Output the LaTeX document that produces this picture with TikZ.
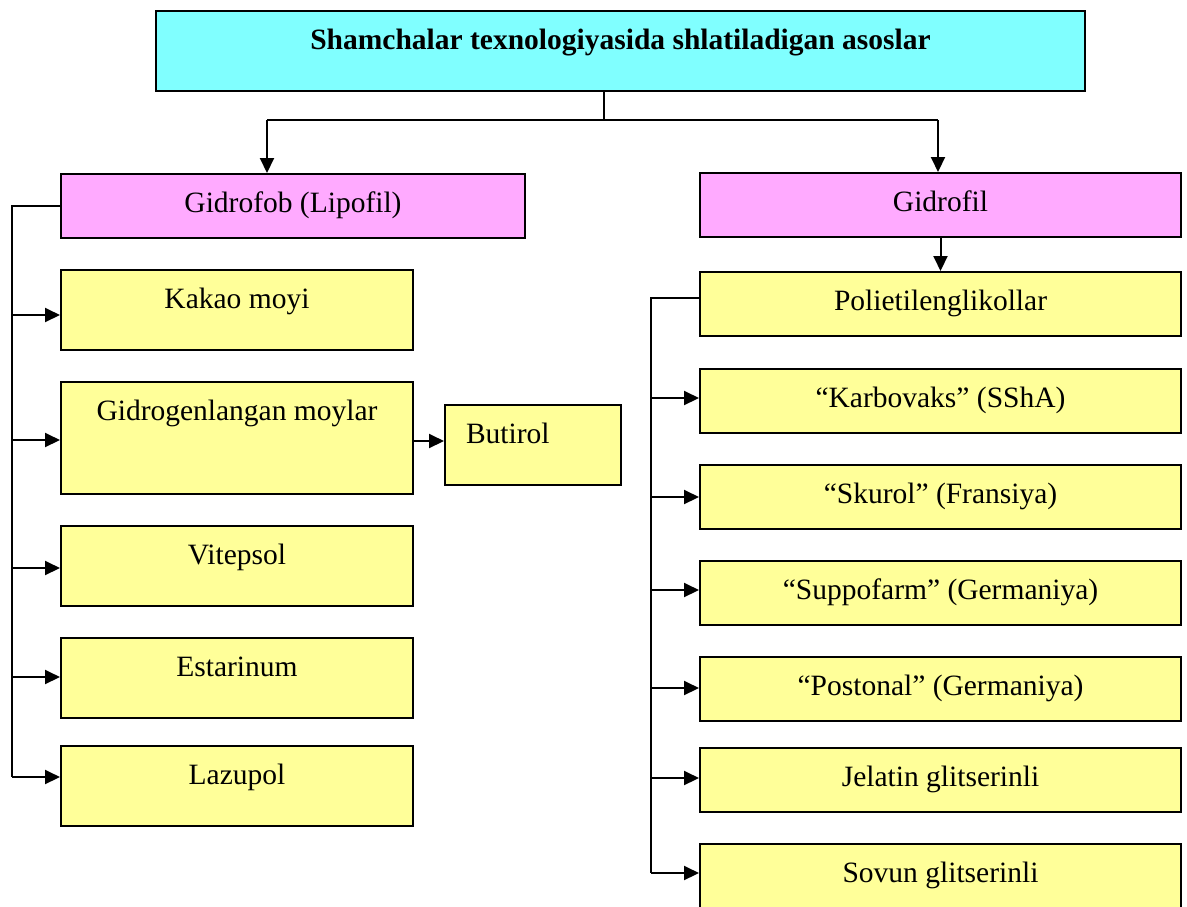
\documentclass[tikz,border=0pt]{standalone}
\usepackage{fontspec}
\setmainfont{Liberation Serif}
\usetikzlibrary{arrows.meta,positioning}
\definecolor{head_cyan}{RGB}{128,255,255}
\definecolor{group_pink}{RGB}{255,170,255}
\definecolor{item_yellow}{RGB}{255,255,153}

\begin{document}
\begin{tikzpicture}[x=0.5pt, y=-0.5pt, font=\fontsize{14.75pt}{17pt}\selectfont,
    box/.style={draw, line width=1pt, anchor=north west, inner sep=0pt, text height=19pt},
    head/.style={box, fill=head_cyan, font=\fontsize{14.75pt}{17pt}\selectfont\bfseries},
    group/.style={box, fill=group_pink},
    item/.style={box, fill=item_yellow},
    link/.style={line width=1pt},
    arr/.style={link, -{Triangle[length=7.5pt,width=7pt]}}]
        \useasboundingbox (0,0) rectangle (1187,906);
        % top
        \node[head, minimum width=464.5pt, text depth=21pt] (title) at (155,10)
          {Shamchalar texnologiyasida shlatiladigan asoslar};
        \coordinate (split) at (604,120);
        \coordinate (tl) at (267,120);
        \coordinate (tr) at (938,120);
        % two groups
        \node[group, minimum width=232pt, text depth=13pt] (hyd) at (60,173) {Gidrofob (Lipofil)};
        \node[group, minimum width=240.5pt, text depth=13pt] (hyl) at (699,172) {Gidrofil};
        \draw[link] (split |- title.south) -- (split);
        \draw[link] (tl) -- (tr);
        \draw[arr] (tl) -- (tl |- hyd.north);
        \draw[arr] (tr) -- (tr |- hyl.north);
        % left column
        \node[item, minimum width=176pt, text depth=21pt] (kakao) at (60,269) {Kakao moyi};
        \node[item, minimum width=176pt, text depth=37pt] (gidro) at (60,381) {Gidrogenlangan moylar};
        \node[item, minimum width=176pt, text depth=21pt] (vitep) at (60,525) {Vitepsol};
        \node[item, minimum width=176pt, text depth=21pt] (estar) at (60,637) {Estarinum};
        \node[item, minimum width=176pt, text depth=21pt] (lazup) at (60,745) {Lazupol};
        \node[item, inner xsep=10.5pt, text width=67pt, align=left, text depth=21pt] (butir) at (444,404) {Butirol};
        \coordinate (lb) at (12,777);
        \draw[link] (hyd.west) -| (lb);
        \draw[arr] (lb |- 0,315) -- (kakao.west |- 0,315);
        \draw[arr] (lb |- 0,440) -- (gidro.west |- 0,440);
        \draw[arr] (lb |- 0,568) -- (vitep.west |- 0,568);
        \draw[arr] (lb |- 0,677) -- (estar.west |- 0,677);
        \draw[arr] (lb) -- (lazup.west |- lb);
        \draw[arr] (gidro.east |- 0,441) -- (butir.west |- 0,441);
        % right column
        \node[item, minimum width=240.5pt, text depth=13pt] (peg) at (699,271) {Polietilenglikollar};
        \node[item, minimum width=240.5pt, text depth=13pt] (karb) at (699,368) {“Karbovaks” (SShA)};
        \node[item, minimum width=240.5pt, text depth=13pt] (skur) at (699,464) {“Skurol” (Fransiya)};
        \node[item, minimum width=240.5pt, text depth=13pt] (supp) at (699,560) {“Suppofarm” (Germaniya)};
        \node[item, minimum width=240.5pt, text depth=13pt] (post) at (699,656) {“Postonal” (Germaniya)};
        \node[item, minimum width=240.5pt, text depth=13pt] (jel) at (699,747) {Jelatin glitserinli};
        \node[item, minimum width=240.5pt, text depth=13pt] (sov) at (699,843) {Sovun glitserinli};
        \draw[arr] (hyl) -- (peg);
        \coordinate (rb) at (651,873);
        \draw[link] (peg.west |- 0,298) -| (rb);
        \draw[arr] (rb |- 0,398) -- (karb.west |- 0,398);
        \draw[arr] (rb |- 0,497) -- (skur.west |- 0,497);
        \draw[arr] (rb |- 0,590) -- (supp.west |- 0,590);
        \draw[arr] (rb |- 0,688) -- (post.west |- 0,688);
        \draw[arr] (rb |- 0,778) -- (jel.west |- 0,778);
        \draw[arr] (rb) -- (sov.west |- rb);
      \end{tikzpicture}
\end{document}
